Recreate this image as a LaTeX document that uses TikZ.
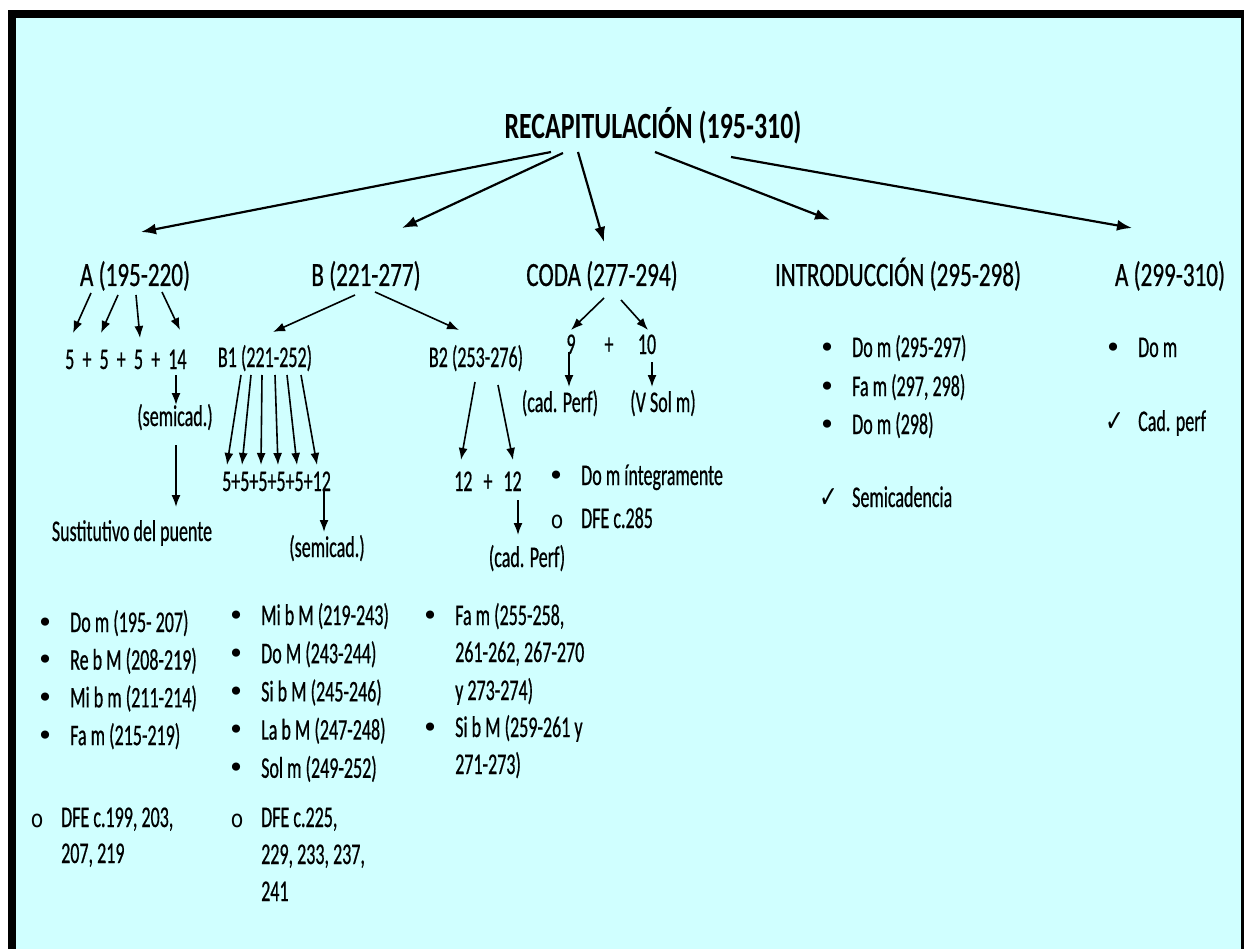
\documentclass[tikz,border=0pt]{standalone}
\usepackage{fontspec}
\setmainfont[FakeStretch=0.6,FakeBold=0.6]{Carlito}
\newfontfamily\labfont[FakeStretch=0.68,FakeBold=0.6]{Carlito}
\newfontfamily\titlefont[FakeStretch=0.70]{Carlito}
\newfontfamily\symfont{DejaVu Sans}
\usetikzlibrary{arrows.meta}
\definecolor{bgcyan}{RGB}{208,255,255}
\newcommand\bodyf{\fontsize{30}{37}\selectfont}
\newcommand\labf{\labfont\fontsize{34}{40}\selectfont}
\newcommand\bul{\llap{\makebox[0pt]{\symfont\fontsize{28}{28}\selectfont •}\hspace{25pt}}}
\newcommand\subbul{\llap{\makebox[0pt]{\scalebox{0.85}[1]{\symfont\fontsize{24}{24}\selectfont o}}\hspace{24pt}}}
\newcommand\chk{\llap{\makebox[0pt]{\scalebox{0.75}[1]{\symfont\fontsize{30}{30}\selectfont ✓}}\hspace{23pt}}}
\tikzset{
  mainarr/.style={line width=2.2pt,-{Latex[length=15pt,width=11pt]}},
  subarr/.style={line width=1.6pt,-{Latex[length=12pt,width=9pt]}},
  body/.style={font=\bodyf,inner sep=0pt,anchor=base west},
  bodyc/.style={font=\bodyf,inner sep=0pt,anchor=base},
  lab/.style={font=\labf,inner sep=0pt,anchor=base},
}
\begin{document}
\begin{tikzpicture}[x=1pt,y=-1pt]
\useasboundingbox (0,0) rectangle (1244,949);
\fill[white] (0,0) rectangle (1244,949);
\fill[black] (8,10) rectangle (1244,949);
\fill[bgcyan] (16,18) rectangle (1241,949);

% title and level 2
\node[inner sep=0pt,anchor=base,font=\titlefont\bfseries\fontsize{37}{40}\selectfont] (title) at (653,139) {RECAPITULACIÓN (195-310)};
\node[lab] (A) at (135,286) {A (195-220)};
\node[lab] (B) at (366,286) {B (221-277)};
\node[lab] (coda) at (602,286) {CODA (277-294)};
\node[lab] (intro) at (898,286) {INTRODUCCIÓN (295-298)};
\node[lab] (A2) at (1170,286) {A (299-310)};

% main arrows
\coordinate (t1) at (551,152); \coordinate (e1) at (141,232);
\coordinate (t2) at (563,153); \coordinate (e2) at (402,228);
\coordinate (t3) at (578,152); \coordinate (e3) at (604,242);
\coordinate (t4) at (655,152); \coordinate (e4) at (830,220);
\coordinate (t5) at (731,157); \coordinate (e5) at (1132,228);
\draw[mainarr] (t1) -- (e1);
\draw[mainarr] (t2) -- (e2);
\draw[mainarr] (t3) -- (e3);
\draw[mainarr] (t4) -- (e4);
\draw[mainarr] (t5) -- (e5);

% A branch
\node[body] (sumA) at (65,369) {5~~+~~5~~+~~5~~+~~14};
\foreach \sx/\sy/\ex/\ey [count=\i] in {91/293/73/333,118/295/101/333,136/295/140/338,162/292/180/330}{
  \coordinate (as\i) at (\sx,\sy); \coordinate (ae\i) at (\ex,\ey);
  \draw[subarr] (as\i) -- (ae\i);
}
\node[bodyc] (semiA) at (175,426) {(semicad.)};
\node[bodyc] (sust) at (132,541) {Sustitutivo del puente};
\coordinate (a14s) at (176,375); \coordinate (a14e) at (176,405);
\draw[subarr] (a14s) -- (a14e);
\coordinate (asms) at (176,445); \coordinate (asme) at (176,507);
\draw[subarr] (asms) -- (asme);

% B branch
\node[bodyc] (B1) at (265,367) {B1 (221-252)};
\node[bodyc] (B2) at (476,367) {B2 (253-276)};
\coordinate (bs1) at (355,295); \coordinate (be1) at (273,332);
\coordinate (bs2) at (375,292); \coordinate (be2) at (459,330);
\draw[subarr] (bs1) -- (be1);
\draw[subarr] (bs2) -- (be2);
\foreach \sx/\ex [count=\i] in {241/227,251/242,262/261,275/278,287/297,301/317}{
  \coordinate (b1s\i) at (\sx,375); \coordinate (b1e\i) at (\ex,465);
  \draw[subarr] (b1s\i) -- (b1e\i);
}
\node[body] (sumB1) at (222,491) {5+5+5+5+5+12};
\coordinate (b12s) at (324,490); \coordinate (b12e) at (324,532);
\draw[subarr] (b12s) -- (b12e);
\node[bodyc] (semiB) at (327,557) {(semicad.)};
\coordinate (b2s1) at (475,382); \coordinate (b2e1) at (461,460);
\coordinate (b2s2) at (498,385); \coordinate (b2e2) at (513,460);
\draw[subarr] (b2s1) -- (b2e1);
\draw[subarr] (b2s2) -- (b2e2);
\node[body] (sumB2) at (454,491) {12\hspace{11pt}+\hspace{11pt}12};
\coordinate (b22s) at (518,500); \coordinate (b22e) at (518,535);
\draw[subarr] (b22s) -- (b22e);
\node[bodyc] (cadB) at (527,567) {(cad. Perf)};
\node[body] (dom) at (581,485) {\bul Do m íntegramente};
\node[body] (dfe285) at (581,528) {\subbul DFE c.285};

% CODA branch
\coordinate (cs1) at (604,298); \coordinate (ce1) at (571,330);
\coordinate (cs2) at (621,300); \coordinate (ce2) at (648,330);
\draw[subarr] (cs1) -- (ce1);
\draw[subarr] (cs2) -- (ce2);
\node[bodyc] (n9) at (571,354) {9};
\node[bodyc] (nplus) at (609,354) {+};
\node[bodyc] (n10) at (647,354) {10};
\coordinate (c9s) at (569,352); \coordinate (c9e) at (569,387);
\coordinate (c10s) at (652,362); \coordinate (c10e) at (652,387);
\draw[subarr] (c9s) -- (c9e);
\draw[subarr] (c10s) -- (c10e);
\node[bodyc] (cadC) at (560,412) {(cad. Perf)};
\node[bodyc] (vsol) at (663,412) {(V Sol m)};

% INTRODUCCION
\foreach \t/\yy [count=\i] in {{Do m (295-297)}/357,{Fa m (297, 298)}/396,{Do m (298)}/434}{
  \node[body] (in\i) at (852,\yy) {\bul\t};
}
\node[body] (semic) at (852,507) {\chk Semicadencia};

% A (299-310)
\node[body] (a2dom) at (1138,357) {\bul Do m};
\node[body] (a2cad) at (1138,431) {\chk Cad. perf};

% bottom columns
\foreach \t [count=\i] in {{Do m (195- 207)},{Re b M (208-219)},{Mi b m (211-214)},{Fa m (215-219)}}{
  \node[body] (ca\i) at (70,{632+37.7*(\i-1)}) {\bul\t};
}
\node[body] (dfeA1) at (61,827) {\subbul DFE c.199, 203,};
\node[body] (dfeA2) at (61,863) {207, 219};

\foreach \t [count=\i] in {{Mi b M (219-243)},{Do M (243-244)},{Si b M (245-246)},{La b M (247-248)},{Sol m (249-252)}}{
  \node[body] (cb\i) at (261,{625+38.2*(\i-1)}) {\bul\t};
}
\node[body] (dfeB1) at (261,827) {\subbul DFE c.225,};
\node[body] (dfeB2) at (261,864) {229, 233, 237,};
\node[body] (dfeB3) at (261,901) {241};

\node[body] (cc1) at (455,625) {\bul Fa m (255-258,};
\node[body] (cc2) at (455,662) {261-262, 267-270};
\node[body] (cc3) at (455,700) {y 273-274)};
\node[body] (cc4) at (455,737) {\bul Si b M (259-261 y};
\node[body] (cc5) at (455,774) {271-273)};
\end{tikzpicture}
\end{document}
